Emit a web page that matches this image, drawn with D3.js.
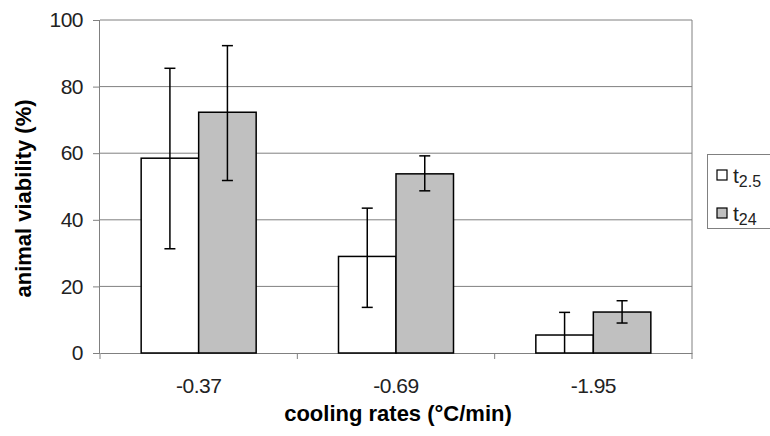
<!DOCTYPE html>
<html>
<head>
<meta charset="utf-8">
<script src="https://cdn.jsdelivr.net/npm/d3@7"></script>
<style>
  body { margin: 0; background: #fff; }
  svg { display: block; font-family: "Liberation Sans", Arial, sans-serif; }
</style>
</head>
<body>
<div id="chart"></div>
<script>
const categories = ["-0.37", "-0.69", "-1.95"];
const seriesNames = ["t2.5", "t24"];
const t25Values = [58.5, 29, 5.4];
const t25Upper = [85.5, 43.5, 12.2];
const t25Lower = [31.3, 13.7, 0];
const t24Values = [72.3, 53.8, 12.3];
const t24Upper = [92.3, 59.2, 15.7];
const t24Lower = [51.8, 48.7, 9];
const yTicks = [0, 20, 40, 60, 80, 100];

const W = 770, H = 436;
const plot = { left: 100, right: 692, top: 20, bottom: 353 };
const fills = ["#ffffff", "#c0c0c0"];
const FONT = "Liberation Sans, Arial, sans-serif";

const svg = d3.select("#chart").append("svg").attr("width", W).attr("height", H);

const x = d3.scaleBand().domain(categories).range([plot.left, plot.right]);
const xInner = d3.scaleBand().domain(seriesNames).range([0, 115]);
const y = d3.scaleLinear().domain([0, 100]).range([plot.bottom, plot.top]);

// gridlines
svg.append("g").selectAll("line").data(yTicks.slice(1)).join("line")
  .attr("x1", plot.left).attr("x2", plot.right)
  .attr("y1", d => y(d)).attr("y2", d => y(d))
  .attr("stroke", "#808080").attr("stroke-width", 1);

// right border
svg.append("line")
  .attr("x1", plot.right).attr("x2", plot.right)
  .attr("y1", plot.top).attr("y2", plot.bottom)
  .attr("stroke", "#808080").attr("stroke-width", 1);

// y axis
svg.append("g")
  .attr("transform", `translate(${plot.left},0)`)
  .call(d3.axisLeft(y).tickValues(yTicks).tickSize(7).tickPadding(10))
  .call(g => g.select(".domain").attr("stroke", "#808080").attr("d", `M-0.5,${plot.top}V${plot.bottom}`))
  .call(g => g.selectAll(".tick line").attr("stroke", "#808080"))
  .call(g => g.selectAll(".tick text").attr("fill", "#222").attr("font-size", 21)
    .attr("font-family", FONT).attr("letter-spacing", -0.5));

// x axis
svg.append("g")
  .attr("transform", `translate(0,${plot.bottom})`)
  .call(d3.axisBottom(x).tickSize(0).tickPadding(25))
  .call(g => g.select(".domain").attr("stroke", "#808080"))
  .call(g => g.selectAll(".tick text").attr("fill", "#222").attr("font-size", 21)
    .attr("font-family", FONT).attr("letter-spacing", -0.5));

// x ticks between categories
const boundaries = categories.map(c => x(c)).concat([plot.right]);
svg.append("g").selectAll("line").data(boundaries).join("line")
  .attr("x1", d => d).attr("x2", d => d)
  .attr("y1", plot.bottom).attr("y2", plot.bottom + 6)
  .attr("stroke", "#808080");

const groups = [
  { name: "t2.5", values: t25Values, upper: t25Upper, lower: t25Lower },
  { name: "t24", values: t24Values, upper: t24Upper, lower: t24Lower },
];

groups.forEach((s, si) => {
  const data = categories.map((c, i) => ({
    c, v: s.values[i], hi: s.upper[i], lo: s.lower[i]
  }));
  const off = c => x(c) + (x.bandwidth() - 115) / 2 + xInner(s.name);

  svg.append("g").selectAll("rect").data(data).join("rect")
    .attr("x", d => off(d.c))
    .attr("y", d => y(d.v))
    .attr("width", xInner.bandwidth())
    .attr("height", d => y(0) - y(d.v))
    .attr("fill", fills[si])
    .attr("stroke", "#000").attr("stroke-width", 1.5);

  const eb = svg.append("g").attr("stroke", "#000").attr("stroke-width", 1.5);
  data.forEach(d => {
    const cx = off(d.c) + xInner.bandwidth() / 2;
    eb.append("line").attr("x1", cx).attr("x2", cx).attr("y1", y(d.hi)).attr("y2", y(d.lo));
    eb.append("line").attr("x1", cx - 5.5).attr("x2", cx + 5.5).attr("y1", y(d.hi)).attr("y2", y(d.hi));
    if (d.lo > 0) {
      eb.append("line").attr("x1", cx - 5.5).attr("x2", cx + 5.5).attr("y1", y(d.lo)).attr("y2", y(d.lo));
    }
  });
});

// axis titles
svg.append("text")
  .attr("transform", `translate(31,${(plot.top + plot.bottom) / 2 + 12}) rotate(-90)`)
  .attr("text-anchor", "middle")
  .attr("font-size", 22).attr("font-weight", "bold")
  .text("animal viability (%)");

svg.append("text")
  .attr("x", 398).attr("y", 421)
  .attr("text-anchor", "middle")
  .attr("font-size", 22).attr("font-weight", "bold")
  .text("cooling rates (°C/min)");

// legend
const legend = svg.append("g");
legend.append("rect")
  .attr("x", 707.5).attr("y", 154.5).attr("width", 70).attr("height", 74)
  .attr("fill", "#fff").attr("stroke", "#808080");

const legendLabels = [["t", "2.5"], ["t", "24"]];
legendLabels.forEach((lab, i) => {
  const base = 183 + i * 38;
  legend.append("rect")
    .attr("x", 717).attr("y", base - 13).attr("width", 10).attr("height", 10)
    .attr("fill", fills[i]).attr("stroke", "#000").attr("stroke-width", 1.2);
  const t = legend.append("text").attr("x", 733).attr("y", base).attr("font-size", 21).attr("fill", "#222");
  t.append("tspan").text(lab[0]);
  t.append("tspan").attr("dy", 4).attr("font-size", 16).text(lab[1]);
});
</script>
</body>
</html>
